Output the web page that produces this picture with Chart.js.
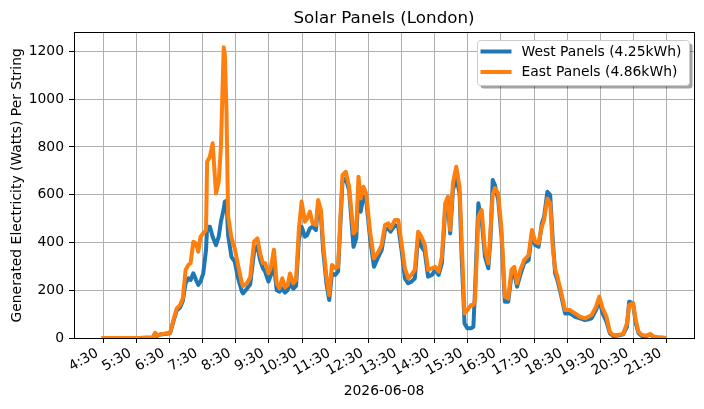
<!DOCTYPE html>
<html>
<head>
<meta charset="utf-8">
<script src="https://cdn.jsdelivr.net/npm/chart.js@4.4.1/dist/chart.umd.min.js"></script>
<style>
html,body{margin:0;padding:0;background:#ffffff;}
#wrap{width:704px;height:409px;}
</style>
</head>
<body>
<div id="wrap"><canvas id="c" width="704" height="409"></canvas></div>
<script>
// ---------- data ----------
const chartTitle = 'Solar Panels (London)';
const xAxisTitle = '2026-06-08';
const yAxisTitle = 'Generated Electricity (Watts) Per String';
const seriesNames = ['West Panels (4.25kWh)', 'East Panels (4.86kWh)'];
const xTickLabels = ['4:30','5:30','6:30','7:30','8:30','9:30','10:30','11:30','12:30','13:30','14:30','15:30','16:30','17:30','18:30','19:30','20:30','21:30'];
const yTickValues = [0, 200, 400, 600, 800, 1000, 1200];

// sample times, minutes since midnight
const times = [267,336,360,364,367,373,385,391,397,403,409,414,419,424,428,433,438,442,446,451,456,458,463,468,474,479,483,488,490,493,496,502,508,514,521,523,530,536,543,549,554,559,563,569,573,579,584,589,594,599,604,608,614,619,624,629,635,639,644,649,655,659,664,668,674,679,684,690,695,703,709,715,723,728,732,736,741,746,753,760,768,774,780,786,790,798,804,810,816,822,828,834,840,846,852,858,865,871,877,883,889,894,898,903,909,915,919,924,929,936,940,943,949,955,961,967,971,975,979,985,991,997,1003,1009,1014,1019,1025,1032,1040,1046,1052,1058,1064,1068,1074,1079,1084,1088,1092,1098,1106,1115,1124,1133,1142,1148,1154,1162,1168,1174,1181,1187,1193,1202,1211,1218,1222,1229,1234,1239,1245,1254,1260,1266,1274,1289];
const westValues = [0,0,2,20,8,15,18,20,70,115,128,155,229,250,243,271,243,222,236,271,368,466,466,424,389,424,487,540,571,575,430,340,320,250,194,187,206,225,361,385,326,292,278,236,260,305,200,194,208,190,201,229,206,218,410,466,424,431,459,466,452,564,515,368,229,159,271,264,278,654,668,619,382,417,619,529,592,578,417,298,340,368,452,459,445,473,466,368,250,229,236,250,424,382,361,257,264,285,264,313,536,564,438,619,675,605,326,61,41,41,47,200,564,494,340,292,417,661,640,578,424,152,152,264,271,215,264,313,326,438,389,382,480,508,612,599,400,271,243,187,103,103,89,82,75,78,82,117,159,103,68,20,8,10,15,47,152,145,61,20,8,8,15,5,2,0];
const eastValues = [0,0,2,22,10,15,20,22,75,124,138,166,285,306,313,403,396,361,424,438,452,738,759,815,605,654,800,1217,1190,950,510,420,375,305,229,218,229,254,403,417,354,313,313,271,292,370,229,208,250,212,222,270,229,243,452,571,487,500,529,480,473,578,536,396,257,180,306,292,298,682,696,633,438,452,675,584,633,605,445,333,361,389,473,480,459,494,494,396,292,250,264,285,445,424,389,285,292,298,278,340,564,592,452,648,717,633,396,103,117,138,138,159,508,536,368,313,452,600,627,605,452,173,166,285,298,229,285,326,347,452,403,396,466,494,584,564,368,290,257,201,117,117,103,89,82,89,96,131,173,124,89,26,13,13,17,61,138,145,75,26,13,10,17,6,3,0];

const seriesColors = ['#1f77b4', '#ff7f0e'];

// ---------- helpers ----------
function parseHM(s){ const p = s.split(':'); return (+p[0]) * 60 + (+p[1]); }
const xTickValues = xTickLabels.map(parseHM);
const FONT = 'DejaVu Sans';

Chart.defaults.font.family = FONT;
Chart.defaults.color = '#000000';

const framePlugin = {
  id: 'frameAndLegend',
  afterDatasetsDraw(chart) {
    const ctx = chart.ctx;
    const a = chart.chartArea;
    ctx.save();
    // axes frame (spines)
    const L = Math.round(a.left - 0.5) + 0.5;
    const R = Math.round(a.right - 0.5) + 0.5;
    const T = Math.round(a.top - 0.5) + 0.5;
    const B = Math.round(a.bottom - 0.5) + 0.5;
    ctx.strokeStyle = '#000000';
    ctx.lineWidth = 1;
    ctx.strokeRect(L, T, R - L, B - T);

    // legend (matplotlib style, upper right, with shadow)
    const fs = 13.9;
    ctx.font = fs + 'px "' + FONT + '"';
    const ds = chart.data.datasets;
    let maxW = 0;
    ds.forEach(d => { maxW = Math.max(maxW, ctx.measureText(d.label).width); });
    const lw = Math.round(44 + maxW + 8);
    const lh = 45;
    const lx = Math.round(a.right - 5) - lw + 0.5;
    const ly = Math.round(a.top + 7) + 0.5;
    const rr = 3;
    function rrect(x, y, w, h, r) {
      ctx.beginPath();
      ctx.moveTo(x + r, y);
      ctx.lineTo(x + w - r, y);
      ctx.arcTo(x + w, y, x + w, y + r, r);
      ctx.lineTo(x + w, y + h - r);
      ctx.arcTo(x + w, y + h, x + w - r, y + h, r);
      ctx.lineTo(x + r, y + h);
      ctx.arcTo(x, y + h, x, y + h - r, r);
      ctx.lineTo(x, y + r);
      ctx.arcTo(x, y, x + r, y, r);
      ctx.closePath();
    }
    ctx.fillStyle = 'rgba(0,0,0,0.36)';
    rrect(lx + 3, ly + 3, lw, lh, rr);
    ctx.fill();
    ctx.fillStyle = '#ffffff';
    rrect(lx, ly, lw, lh, rr);
    ctx.fill();
    ctx.strokeStyle = '#cccccc';
    ctx.lineWidth = 1;
    ctx.stroke();
    ds.forEach((d, i) => {
      const y = ly + 11 + i * 20.5;
      ctx.strokeStyle = d.borderColor;
      ctx.lineWidth = 4;
      ctx.lineCap = 'butt';
      ctx.beginPath();
      ctx.moveTo(lx + 3, y);
      ctx.lineTo(lx + 34, y);
      ctx.stroke();
      ctx.fillStyle = '#000000';
      ctx.textAlign = 'left';
      ctx.textBaseline = 'middle';
      ctx.fillText(d.label, lx + 44, y + 0.5);
    });
    ctx.restore();
  }
};

// East is drawn on top of West (lower 'order' is drawn last)
const seriesOrder = [1, 0];

const datasets = [westValues, eastValues].map((vals, i) => ({
  label: seriesNames[i],
  data: times.map((t, j) => ({ x: t, y: vals[j] })),
  order: seriesOrder[i],
  borderColor: seriesColors[i],
  backgroundColor: seriesColors[i],
  borderWidth: 4,
  pointRadius: 0,
  pointHoverRadius: 0,
  tension: 0,
  fill: false,
  borderJoinStyle: 'round',
  borderCapStyle: 'butt',
  clip: 0
}));

new Chart(document.getElementById('c'), {
  type: 'line',
  data: { datasets },
  plugins: [framePlugin],
  options: {
    responsive: false,
    animation: false,
    events: [],
    layout: { padding: { left: 0, right: 10, top: 0, bottom: 0 } },
    plugins: {
      legend: { display: false },
      tooltip: { enabled: false },
      title: {
        display: true,
        text: chartTitle,
        fullSize: false,
        color: '#000000',
        font: { family: FONT, size: 16.7, weight: 'normal', lineHeight: 1.2 },
        padding: { top: 9, bottom: 3.7 }
      }
    },
    scales: {
      x: {
        type: 'linear',
        position: 'bottom',
        min: 217,
        max: 1339.4,
        afterBuildTicks: (s) => { s.ticks = xTickValues.map(v => ({ value: v })); },
        afterFit: (s) => { s.height = 71; },
        grid: { color: '#b0b0b0', lineWidth: 1, tickColor: '#000000', tickLength: 5, tickWidth: 1, drawTicks: true },
        border: { display: false },
        ticks: {
          autoSkip: false,
          minRotation: 30,
          maxRotation: 30,
          padding: 2,
          labelOffset: -6,
          color: '#000000',
          font: { family: FONT, size: 13.9 },
          callback: (v, i) => xTickLabels[i]
        },
        title: {
          display: true,
          text: xAxisTitle,
          color: '#000000',
          font: { family: FONT, size: 13.9, lineHeight: 1.2 },
          padding: { top: 0, bottom: 9 }
        }
      },
      y: {
        type: 'linear',
        position: 'left',
        min: 0,
        max: 1278,
        afterBuildTicks: (s) => { s.ticks = yTickValues.map(v => ({ value: v })); },
        afterFit: (s) => { s.width = 74; },
        grid: { color: '#b0b0b0', lineWidth: 1, tickColor: '#000000', tickLength: 5, tickWidth: 1, drawTicks: true },
        border: { display: false },
        ticks: {
          padding: 5,
          color: '#000000',
          font: { family: FONT, size: 13.9 },
          callback: (v) => String(v)
        },
        title: {
          display: true,
          text: yAxisTitle,
          color: '#000000',
          font: { family: FONT, size: 13.9, lineHeight: 1.2 },
          padding: { top: 9.2, bottom: 0 }
        }
      }
    }
  }
});
</script>
</body>
</html>
